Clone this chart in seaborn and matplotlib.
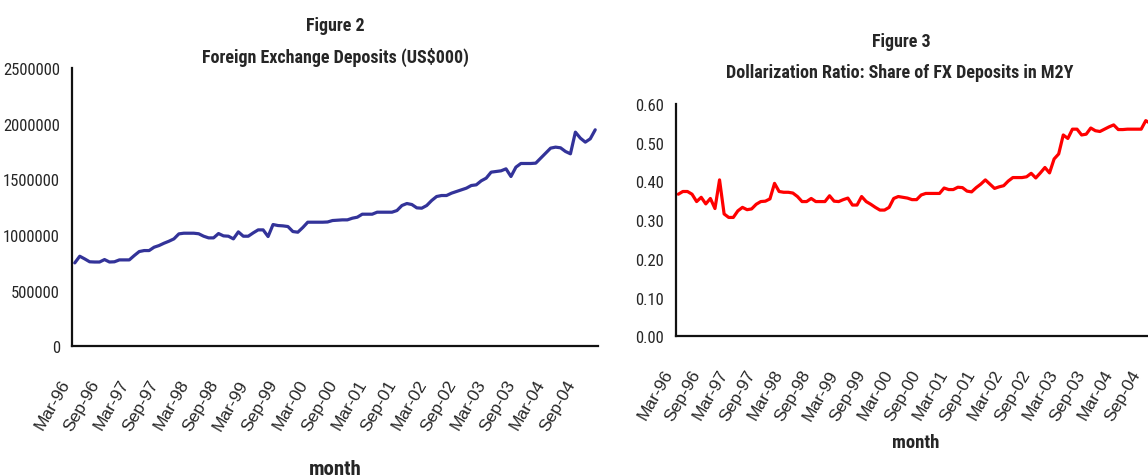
import numpy as np
import pandas as pd
import matplotlib
matplotlib.use("Agg")
import matplotlib.pyplot as plt
import seaborn as sns
from matplotlib import font_manager as fm

# ---------------- data ----------------
months = pd.date_range("1996-03-01", "2004-12-01", freq="MS").strftime("%b-%y").tolist()

fx_deposits = [
    750000, 810000, 786000, 760000, 758000, 758000, 780000, 758000, 760000, 777000,
    777000, 777000, 816000, 852000, 861000, 861000, 891000, 906000, 927000, 945000,
    966000, 1011000, 1017000, 1017000, 1017000, 1012000, 990000, 975000, 975000, 1014000,
    993000, 990000, 966000, 1029000, 990000, 990000, 1020000, 1047000, 1047000, 987000,
    1095000, 1086000, 1083000, 1077000, 1032000, 1026000, 1068000, 1116000, 1116000, 1116000,
    1116000, 1118000, 1131000, 1134000, 1137000, 1137000, 1152000, 1161000, 1188000, 1188000,
    1188000, 1206000, 1206000, 1206000, 1206000, 1221000, 1266000, 1284000, 1275000, 1245000,
    1242000, 1266000, 1311000, 1347000, 1356000, 1356000, 1377000, 1392000, 1407000, 1422000,
    1446000, 1452000, 1488000, 1512000, 1566000, 1572000, 1578000, 1596000, 1527000, 1611000,
    1644000, 1644000, 1644000, 1647000, 1692000, 1737000, 1782000, 1791000, 1785000, 1752000,
    1731000, 1926000, 1872000, 1836000, 1866000, 1947000,
]

dollarization = [
    0.367, 0.374, 0.374, 0.367, 0.348, 0.359, 0.342, 0.356, 0.330, 0.404,
    0.316, 0.307, 0.307, 0.324, 0.333, 0.327, 0.329, 0.341, 0.348, 0.349,
    0.355, 0.395, 0.374, 0.372, 0.372, 0.370, 0.361, 0.348, 0.348, 0.356,
    0.348, 0.348, 0.348, 0.363, 0.349, 0.348, 0.353, 0.357, 0.339, 0.339,
    0.361, 0.348, 0.341, 0.333, 0.326, 0.326, 0.333, 0.356, 0.361, 0.359,
    0.357, 0.353, 0.353, 0.365, 0.369, 0.369, 0.369, 0.369, 0.383, 0.379,
    0.379, 0.385, 0.384, 0.375, 0.373, 0.384, 0.393, 0.404, 0.393, 0.382,
    0.386, 0.389, 0.401, 0.410, 0.410, 0.410, 0.412, 0.421, 0.409, 0.422,
    0.436, 0.422, 0.458, 0.471, 0.520, 0.511, 0.535, 0.535, 0.520, 0.522,
    0.538, 0.531, 0.529, 0.535, 0.541, 0.546, 0.534, 0.534, 0.535, 0.535,
    0.535, 0.535, 0.557, 0.550, 0.548, 0.552,
]

fx_yticks = [0, 500000, 1000000, 1500000, 2000000, 2500000]
dr_yticks = [0.0, 0.1, 0.2, 0.3, 0.4, 0.5, 0.6]

df = pd.DataFrame({"idx": np.arange(len(months)), "month": months,
                   "fx": fx_deposits, "dr": dollarization})

# ---------------- style ----------------
sns.set_style("white")
plt.rcParams["font.family"] = ["Liberation Sans", "DejaVu Sans"]


def find_font(bold):
    """Look for a condensed / narrow face on the system."""
    prefs = ["LiberationSansNarrow", "RobotoCondensed", "Roboto_Condensed",
             "OpenSans_Condensed", "OpenSansCondensed", "DejaVuSansCondensed"]
    files = [f.fname for f in fm.fontManager.ttflist]
    for p in prefs:
        for fn in files:
            base = fn.split("/")[-1].replace("-", "").replace(" ", "")
            if p.replace("_", "") in base.replace("_", ""):
                isbold = "Bold" in base
                italic = ("Italic" in base) or ("Oblique" in base)
                if isbold == bold and not italic and ("Light" not in base) and ("Semi" not in base or bold):
                    if bold and ("ExtraBold" in base or "SemiBold" in base):
                        continue
                    return fm.FontProperties(fname=fn)
    return None


reg_fp = find_font(False)
bold_fp = find_font(True)
condensed = reg_fp is not None
if reg_fp is None:
    reg_fp = fm.FontProperties(family="Liberation Sans")
if bold_fp is None:
    bold_fp = fm.FontProperties(family="Liberation Sans", weight="bold")
wide_fp = fm.FontProperties(family=["Liberation Sans", "DejaVu Sans"])


def fp(base, size):
    p = base.copy()
    p.set_size(size)
    return p


W, H = 1148, 477
fig = plt.figure(figsize=(W / 100, H / 100), dpi=100)
fig.patch.set_facecolor("white")


def px_axes(x0, y_top, x1, y_bot):
    return fig.add_axes([x0 / W, 1 - y_bot / H, (x1 - x0) / W, (y_bot - y_top) / H])


ax1 = px_axes(72.3, 69.3, 597.7, 347.3)
ax2 = px_axes(676, 105, 1161.8, 337.3)

sns.lineplot(data=df, x="idx", y="fx", ax=ax1, color="#333399", linewidth=2.3)
sns.lineplot(data=df, x="idx", y="dr", ax=ax2, color="#ff0000", linewidth=2.3)

tick_pos = np.arange(-0.5, len(months) - 0.5, 6)
tick_lab = [months[int(p + 0.5)] for p in tick_pos]

ytick_size = 12 if condensed else 10.5
title_size = 13 if condensed else 11
for ax, yt, fmt in [(ax1, fx_yticks, "{:.0f}"), (ax2, dr_yticks, "{:.2f}")]:
    ax.set_facecolor("white")
    for s in ["top", "right"]:
        ax.spines[s].set_visible(False)
    for s in ["left", "bottom"]:
        ax.spines[s].set_color("#111111")
        ax.spines[s].set_linewidth(1.6)
    ax.set_xlim(-0.5, len(months) - 0.5)
    ax.set_ylim(yt[0], yt[-1])
    ax.set_yticks(yt)
    ax.set_yticklabels([fmt.format(v) for v in yt], fontproperties=fp(reg_fp, ytick_size))
    ax.set_xticks(tick_pos)
    ax.set_xticklabels(tick_lab, rotation=60, ha="right",
                       fontproperties=fp(wide_fp, 12.5))
    ax.tick_params(axis="y", direction="out", length=5, width=1.4, color="#111111", pad=4)
    ax.tick_params(axis="x", direction="out", length=5, width=1.4, color="#111111", pad=17)
    ax.set_ylabel("")

ax1.set_xlabel("month", fontproperties=fp(bold_fp, 15 if condensed else 14))
ax1.xaxis.set_label_coords(0.5, -0.44)
ax1.xaxis.label.set_va("center")
ax2.set_xlabel("month", fontproperties=fp(bold_fp, 13.5 if condensed else 12.5))
ax2.xaxis.set_label_coords((916 - 676) / 485.8, -0.455)
ax2.xaxis.label.set_va("center")

tp = fp(bold_fp, title_size)
fig.text(335 / W, 1 - 26 / H, "Figure 2", ha="center", va="center", fontproperties=tp)
fig.text(335 / W, 1 - 57 / H, "Foreign Exchange Deposits (US$000)", ha="center", va="center", fontproperties=tp)
fig.text(901 / W, 1 - 42 / H, "Figure 3", ha="center", va="center", fontproperties=tp)
fig.text(900 / W, 1 - 73 / H, "Dollarization Ratio: Share of FX Deposits in M2Y", ha="center", va="center", fontproperties=tp)

fig.savefig("out.png", dpi=100, facecolor="white")
